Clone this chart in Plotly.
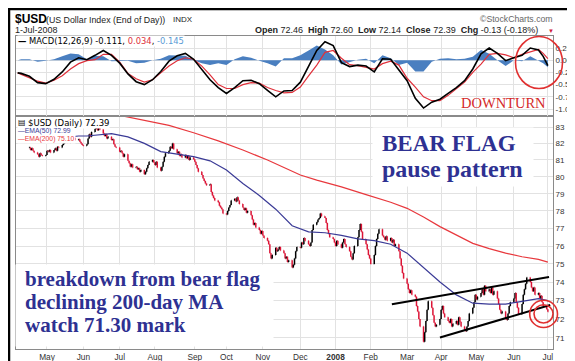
import math
import pandas as pd
import plotly.graph_objects as go

# ---------------- DATA ----------------
START = "2007-04-16"   # first daily bar (business days)
close = [
    81.75, 81.60, 81.70, 81.55, 81.45,
    81.35, 81.20, 81.40, 81.30, 81.25,
    81.30, 81.55, 81.50, 81.60, 81.45,
    81.60, 81.70, 81.55, 81.80, 81.75,
    81.90, 82.00, 82.10, 82.20, 82.05,
    82.15, 82.30, 82.20, 82.35, 82.20,
    82.25, 82.10, 82.00, 81.90, 81.85,
    81.95, 82.30, 82.55, 82.40, 82.70,
    82.90, 83.05, 82.80, 82.95, 82.85,
    82.60, 82.45, 82.55, 82.30, 82.40,
    82.20, 82.25, 81.95, 81.80, 81.75,
    81.50, 81.55, 81.40, 81.20, 81.35,
    80.95, 80.80, 80.60, 80.75, 80.55,
    80.60, 80.45, 80.50, 80.30, 80.40,
    80.15, 80.30, 80.50, 80.70, 80.90,
    81.00, 80.85, 80.70, 80.90, 80.55,
    80.35, 80.60, 80.90, 81.20, 81.40,
    81.55, 81.80, 81.70, 82.00, 81.65,
    81.40, 81.50, 81.25, 81.35, 81.15,
    81.30, 81.10, 81.25, 81.00, 81.15,
    81.05, 80.90, 80.70, 80.50, 80.30,
    80.10, 79.90, 79.75, 79.60, 79.50,
    79.55, 79.10, 78.90, 78.75, 78.60,
    78.50, 78.30, 78.20, 78.10, 77.85,
    77.80, 78.00, 78.20, 78.35, 78.60,
    78.70, 78.55, 78.80, 78.60, 78.40,
    78.20, 78.05, 78.15, 77.90, 78.00,
    77.75, 77.50, 77.20, 77.30, 77.05,
    76.90, 76.70, 76.85, 76.60, 76.45,
    76.30, 76.10, 75.60, 75.30, 75.50,
    75.90, 75.70, 75.80, 75.95, 75.75,
    75.60, 75.30, 75.40, 75.10, 75.20,
    74.80, 74.95, 75.30, 75.70, 75.95,
    75.90, 76.20, 76.10, 76.45, 76.30,
    76.10, 76.00, 76.20, 76.90, 77.20,
    77.35, 77.50, 77.60, 77.85, 77.70,
    77.60, 77.30, 76.90, 76.70, 76.50,
    76.40, 76.20, 76.00, 76.30, 76.10,
    75.90, 76.20, 76.40, 76.10, 75.95,
    75.70, 75.40, 75.25, 75.60, 76.00,
    76.50, 76.90, 77.25, 76.80, 76.40,
    76.10, 75.80, 75.50, 75.30, 75.00,
    75.50, 76.00, 76.40, 76.70, 76.95,
    76.60, 76.50, 76.35, 76.55, 76.30,
    76.45, 76.20, 76.35, 76.00, 76.10,
    75.70, 75.30, 74.90, 74.50, 74.20,
    73.90, 73.60, 73.40, 73.55, 73.30,
    73.20, 72.70, 72.40, 72.00, 71.60,
    70.80, 71.30, 71.90, 72.50, 72.95,
    72.60, 72.20, 71.80, 71.60, 71.70,
    72.00, 72.50, 72.70, 72.30, 72.10,
    71.90, 71.80, 72.00, 71.60, 71.75,
    71.90, 71.70, 72.10, 71.85, 71.60,
    71.45, 71.35, 71.60, 71.90, 72.30,
    72.60, 72.90, 73.30, 73.05, 73.20,
    73.40, 73.60, 73.30, 73.80, 73.50,
    73.60, 73.40, 73.70, 73.30, 73.50,
    73.10, 72.80, 72.50, 72.30, 72.40,
    72.00, 71.95, 72.30, 72.70, 72.90,
    73.10, 73.40, 72.90, 72.60, 72.25,
    72.80, 73.30, 73.60, 73.90, 74.25,
    74.00, 73.70, 73.50, 73.70, 73.30,
    73.40, 73.10, 73.25, 72.90, 72.70,
    72.52, 72.39,
]

ema50_dates = ["2007-04-16", "2007-04-30", "2007-05-14", "2007-05-28", "2007-06-04",
               "2007-06-18", "2007-06-25", "2007-07-09", "2007-07-23", "2007-08-06",
               "2007-08-20", "2007-09-03", "2007-09-17", "2007-10-01", "2007-10-15",
               "2007-10-29", "2007-11-12", "2007-11-26", "2007-12-10", "2007-12-24",
               "2008-01-07", "2008-01-21", "2008-02-04", "2008-02-18", "2008-03-03",
               "2008-03-17", "2008-03-31", "2008-04-14", "2008-04-28", "2008-05-12",
               "2008-05-26", "2008-06-09", "2008-06-23", "2008-07-01"]
ema50 = [82.3, 82.3, 82.35, 82.45, 82.45, 82.55, 82.6, 82.4, 82.0, 81.5,
         81.35, 81.2, 80.95, 80.4, 79.6, 78.9, 78.1, 77.15, 76.8, 76.75,
         76.6, 76.4, 76.3, 76.1, 75.6, 74.8, 74.0, 73.3, 72.85, 72.8,
         72.8, 72.95, 73.1, 72.99]

ema200_dates = ["2007-04-16", "2007-05-14", "2007-06-11", "2007-07-02", "2007-07-23",
                "2007-08-13", "2007-09-03", "2007-09-24", "2007-10-15", "2007-11-05",
                "2007-11-19", "2007-12-03", "2007-12-17", "2008-01-07", "2008-01-28",
                "2008-02-18", "2008-03-03", "2008-03-17", "2008-03-31", "2008-04-14",
                "2008-04-28", "2008-05-12", "2008-05-26", "2008-06-09", "2008-06-23",
                "2008-07-01"]
ema200 = [84.4, 84.2, 84.0, 83.72, 83.4, 83.1, 82.65, 82.15, 81.6, 81.0,
          80.55, 80.1, 79.8, 79.4, 78.95, 78.5, 78.15, 77.65, 77.1, 76.6,
          76.15, 75.85, 75.6, 75.4, 75.25, 75.1]

macd_dates = ["2007-04-06", "2007-04-09", "2007-04-16", "2007-04-23", "2007-04-30",
              "2007-05-07", "2007-05-14", "2007-05-21", "2007-05-28", "2007-06-04",
              "2007-06-11", "2007-06-18", "2007-06-25", "2007-07-02", "2007-07-09",
              "2007-07-16", "2007-07-23", "2007-07-30", "2007-08-06", "2007-08-13",
              "2007-08-20", "2007-08-27", "2007-09-03", "2007-09-10", "2007-09-17",
              "2007-09-24", "2007-10-01", "2007-10-08", "2007-10-15", "2007-10-22",
              "2007-10-29", "2007-11-05", "2007-11-12", "2007-11-19", "2007-11-26",
              "2007-12-03", "2007-12-10", "2007-12-17", "2007-12-24", "2007-12-31",
              "2008-01-07", "2008-01-14", "2008-01-21", "2008-01-28", "2008-02-04",
              "2008-02-11", "2008-02-18", "2008-02-25", "2008-03-03", "2008-03-10",
              "2008-03-17", "2008-03-24", "2008-03-31", "2008-04-07", "2008-04-14",
              "2008-04-21", "2008-04-28", "2008-05-05", "2008-05-12", "2008-05-19",
              "2008-05-26", "2008-06-02", "2008-06-09", "2008-06-16", "2008-06-23",
              "2008-06-27", "2008-07-01"]
macd_line = [-0.26, -0.27, -0.33, -0.46, -0.48, -0.39, -0.24, -0.04, 0.05, 0.01,
             0.10, 0.20, 0.10, -0.06, -0.28, -0.44, -0.50, -0.40, -0.23, -0.02,
             0.09, 0.14, 0.02, -0.18, -0.40, -0.56, -0.68, -0.56, -0.42, -0.41,
             -0.48, -0.62, -0.75, -0.63, -0.62, -0.45, -0.12, 0.20, 0.38, 0.30,
             -0.05, -0.13, -0.10, -0.12, -0.24, 0.03, 0.02, -0.20, -0.42, -0.78,
             -0.98, -0.86, -0.80, -0.68, -0.56, -0.42, -0.18, 0.13, 0.25, 0.14,
             -0.01, 0.05, 0.10, 0.25, 0.21, 0.08, -0.111]
signal_line = [-0.26, -0.29, -0.35, -0.43, -0.47, -0.41, -0.32, -0.18, -0.07, -0.01,
               0.01, 0.12, 0.12, -0.04, -0.27, -0.38, -0.45, -0.40, -0.26, -0.12,
               -0.01, 0.05, 0.02, -0.12, -0.30, -0.50, -0.58, -0.58, -0.50, -0.46,
               -0.47, -0.56, -0.62, -0.67, -0.66, -0.55, -0.32, -0.10, 0.16, 0.20,
               0.04, -0.09, -0.11, -0.15, -0.18, -0.07, -0.02, -0.10, -0.37, -0.55,
               -0.75, -0.83, -0.83, -0.72, -0.58, -0.45, -0.25, -0.08, 0.12, 0.14,
               0.11, 0.05, 0.12, 0.17, 0.22, 0.14, 0.034]

# hand-drawn flag trendlines (endpoints)
upper_dates = ["2008-02-19", "2008-07-02"]
upper_vals = [72.79, 74.28]
lower_dates = ["2008-03-31", "2008-07-03"]
lower_vals = [71.02, 72.75]

month_ticks = ["2007-05-01", "2007-06-01", "2007-07-02", "2007-08-01", "2007-09-04",
               "2007-10-01", "2007-11-01", "2007-12-03", "2008-01-02", "2008-02-01",
               "2008-03-03", "2008-04-01", "2008-05-01", "2008-06-02", "2008-07-01"]
month_labels = ["May", "Jun", "Jul", "Aug", "Sep", "Oct", "Nov", "Dec", "<b>2008</b>",
                "Feb", "Mar", "Apr", "May", "Jun", "Jul"]
price_ticks = [71, 72, 73, 74, 75, 76, 77, 78, 79, 80, 81, 82, 83]
macd_ticks = [-1.0, -0.75, -0.5, -0.25, 0.0, 0.25]
macd_tick_labels = ["-1.00", "-0.75", "-0.50", "-0.25", "0.00", "0.25"]

# ---------------- derived ----------------
dates = pd.bdate_range(START, periods=len(close))
opens = [close[0]] + close[:-1]
highs = [max(a, b) for a, b in zip(opens, close)]
lows = [min(a, b) for a, b in zip(opens, close)]
hist = [m - s for m, s in zip(macd_line, signal_line)]

# ---------------- layout geometry ----------------
W, H = 575, 361
L, R, T, B = 8, 30, 28, 20
PW = W - L - R
PH = H - T - B
SPLIT = 108


def px(x):
    return (x - L) / PW


def py(y):
    return (H - B - y) / PH


SANS = "Liberation Sans, Arial, sans-serif"
VERD = "DejaVu Sans, Verdana, sans-serif"
SERIF = "Liberation Serif, Times New Roman, serif"
NAVY = "#2e3192"
RED = "#e0303a"
BLUE_HIST = "#4a7fc0"
GRID = "#e2e2e2"

fig = go.Figure()
fig.add_trace(go.Scatter(x=macd_dates, y=hist, mode="lines", fill="tozeroy",
                         line=dict(width=0, color=BLUE_HIST), fillcolor=BLUE_HIST,
                         xaxis="x2", yaxis="y2", hoverinfo="skip"))
fig.add_trace(go.Scatter(x=macd_dates, y=signal_line, mode="lines",
                         line=dict(color=RED, width=1.2), xaxis="x2", yaxis="y2"))
fig.add_trace(go.Scatter(x=macd_dates, y=macd_line, mode="lines",
                         line=dict(color="black", width=1.6), xaxis="x2", yaxis="y2"))
fig.add_trace(go.Scatter(x=ema200_dates, y=ema200, mode="lines",
                         line=dict(color="#e8383d", width=1.2)))
fig.add_trace(go.Scatter(x=ema50_dates, y=ema50, mode="lines",
                         line=dict(color="#3a3a96", width=1.2)))
fig.add_trace(go.Ohlc(x=dates, open=opens, high=highs, low=lows, close=close,
                      increasing=dict(line=dict(color="black", width=1.5)),
                      decreasing=dict(line=dict(color="#dc1436", width=1.5)),
                      tickwidth=0.4))
fig.add_trace(go.Scatter(x=upper_dates, y=upper_vals, mode="lines",
                         line=dict(color="black", width=2)))
fig.add_trace(go.Scatter(x=lower_dates, y=lower_vals, mode="lines",
                         line=dict(color="black", width=2)))

x_range = ["2007-04-04 14:00", "2008-07-05 09:00"]
axis_common = dict(showgrid=True, gridcolor=GRID, gridwidth=1, showline=True,
                   linecolor="#8a8a8a", linewidth=1, mirror=True, ticks="",
                   zeroline=False, automargin=False)

fig.update_layout(
    width=W, height=H, autosize=False, template="none",
    margin=dict(l=L, r=R, t=T, b=B, pad=0),
    paper_bgcolor="white", plot_bgcolor="white", showlegend=False,
    font=dict(family=SANS, size=9, color="#333"),
    xaxis=dict(domain=[0, 1], anchor="y", type="date", range=x_range,
               tickmode="array", tickvals=month_ticks, ticktext=month_labels,
               tickfont=dict(family=SANS, size=8.3, color="#333"),
               rangeslider=dict(visible=False), **axis_common),
    xaxis2=dict(domain=[0, 1], anchor="y2", type="date", matches="x",
                tickmode="array", tickvals=month_ticks, showticklabels=False,
                **axis_common),
    yaxis=dict(domain=[0, py(SPLIT)], anchor="x", side="right", type="log",
               range=[math.log10(70.42), math.log10(83.68)],
               tickmode="array", tickvals=price_ticks,
               ticktext=[str(v) for v in price_ticks],
               tickfont=dict(family=SANS, size=8, color="#333"), **axis_common),
    yaxis2=dict(domain=[py(SPLIT), 1], anchor="x2", side="right",
                range=[-1.143, 0.496], tickmode="array", tickvals=macd_ticks,
                ticktext=macd_tick_labels,
                tickfont=dict(family=SANS, size=8, color="#333"), **axis_common),
)

ann = []


def A(text, x, y, size, color="black", family=SANS, xanchor="left",
      yanchor="middle", bg=None, **kw):
    d = dict(text=text, x=px(x), y=py(y), xref="paper", yref="paper",
             xanchor=xanchor, yanchor=yanchor, showarrow=False,
             font=dict(family=family, size=size, color=color), borderpad=0)
    if bg:
        d["bgcolor"] = bg
    d.update(kw)
    ann.append(d)


# header
A("<b>$USD</b>", 6, 11, 12)
A("(US Dollar Index (End of Day))", 37, 11.5, 8.8, color="#222")
A("INDX", 164, 11.5, 8, color="#222")
A("1-Jul-2008", 6, 22.5, 9, color="#222")
sp = "\u00a0\u00a0"
A("<b>Open</b> 72.46" + sp + "<b>High</b> 72.60" + sp + "<b>Low</b> 72.14" + sp +
  "<b>Close</b> 72.39" + sp + "<b>Chg</b> -0.13 (-0.18%)", 246, 22.5, 9, color="#222")
A("\u25bc", 539, 23, 6, color="#d0203a")
A("\u00a9StockCharts.com", 546, 11, 8.7, color="#666", xanchor="right")

# MACD legend
A("<b>\u2014</b> MACD(12,26,9) -0.111, <span style='color:#e0303a'>0.034</span>, "
  "<span style='color:#5b9bd5'>-0.145</span>", 9, 33.5, 8.4, family=VERD, bg="white")
A("DOWNTURN", 452, 95, 14.5, color="#d42a2a", family=SERIF)

# price legend
A("\u25a4", 9, 114.5, 8, family=VERD, bg="white")
A("$USD (Daily) 72.39", 19, 114.5, 8.5, family=VERD, bg="white")
A("\u2014EMA(50) 72.99", 9, 123, 6.8, color="#3a3a96", bg="white")
A("\u2014EMA(200) 75.10", 9, 131.2, 6.8, color="#e8383d", bg="white")

# white boxes behind comments
A(" ", 445, 149, 10, bg="white", xanchor="center", width=160, height=58)
A(" ", 136.5, 297.5, 10, bg="white", xanchor="center", width=257, height=81)

A("<b>BEAR FLAG</b>", 373, 135.5, 23, color=NAVY, family=SERIF)
A("<b>pause pattern</b>", 373, 161, 24, color=NAVY, family=SERIF)
A("<b>breakdown from bear flag</b>", 16, 270.5, 21, color=NAVY, family=SERIF)
A("<b>declining 200-day MA</b>", 16, 293.5, 21, color=NAVY, family=SERIF)
A("<b>watch 71.30 mark</b>", 16, 316.5, 21, color=NAVY, family=SERIF)

fig.update_layout(annotations=ann)

shapes = []
# red circles
shapes.append(dict(type="circle", xref="paper", yref="paper",
                   x0=px(507.5), x1=px(554.5), y0=py(28.5), y1=py(80.5),
                   line=dict(color="#e03030", width=1.6), layer="above"))
shapes.append(dict(type="circle", xref="paper", yref="paper",
                   x0=px(521.7), x1=px(549.5), y0=py(292.3), y1=py(319.5),
                   line=dict(color="#e03030", width=1.6), layer="above"))
shapes.append(dict(type="circle", xref="paper", yref="paper",
                   x0=px(526.0), x1=px(545.0), y0=py(296.7), y1=py(315.0),
                   line=dict(color="#e03030", width=1.6), layer="above"))
# outer black frame
shapes.append(dict(type="rect", xref="paper", yref="paper",
                   x0=px(1.0), x1=px(573.5), y0=py(1.0), y1=py(359.0),
                   line=dict(color="black", width=2.5), layer="above"))
fig.update_layout(shapes=shapes)

fig.write_html("out.html", include_plotlyjs=True, config={"displayModeBar": False})
